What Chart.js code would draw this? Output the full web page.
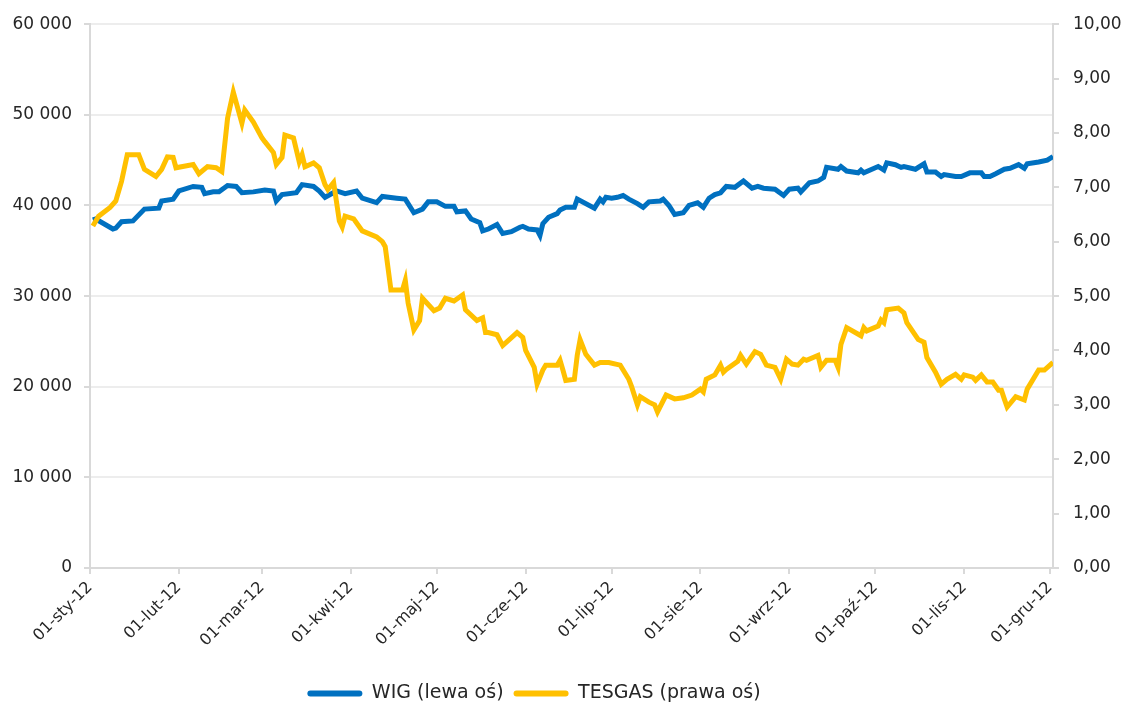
<!DOCTYPE html>
<html>
<head>
<meta charset="utf-8">
<script src="https://cdn.jsdelivr.net/npm/chart.js@4.4.0/dist/chart.umd.min.js"></script>
<style>
  html, body { margin: 0; padding: 0; background: #fff; }
  .graph { width: 1125px; height: 707px; }
</style>
</head>
<body>
<div class="graph"><canvas id="chart"></canvas></div>
<script>
// day of year (0 = 1 Jan 2012) for month ticks
const monthTicks = [0, 31, 60, 91, 121, 152, 182, 213, 244, 274, 305, 335];
const monthLabels = ['01-sty-12', '01-lut-12', '01-mar-12', '01-kwi-12', '01-maj-12', '01-cze-12',
  '01-lip-12', '01-sie-12', '01-wrz-12', '01-paź-12', '01-lis-12', '01-gru-12'];

const wigDays = [1, 2, 8, 9, 11, 15, 19, 24, 25, 29, 31, 36, 39, 40, 43, 45, 48, 51, 53, 57,
  61, 64, 65, 67, 72, 74, 78, 80, 82, 86, 89, 93, 95, 100, 102, 107, 110, 113, 116, 118,
  121, 124, 127, 128, 131, 133, 136, 137, 139, 142, 144, 147, 150, 151, 153, 156, 157, 158, 160, 163,
  164, 166, 169, 170, 176, 178, 179, 180, 182, 184, 186, 188, 191, 193, 195, 199, 200, 202, 204, 207,
  209, 212, 214, 216, 218, 220, 222, 225, 228, 231, 233, 235, 239, 242, 244, 247, 248, 251, 254, 256,
  257, 261, 262, 264, 268, 269, 270, 275, 277, 278, 281, 283, 284, 288, 291, 292, 295, 297, 298, 302,
  304, 307, 311, 312, 314, 316, 319, 321, 324, 326, 327, 331, 334, 336];
const wigValues = [38400, 38500, 37400, 37500, 38200, 38300, 39600, 39700, 40500, 40700, 41600, 42100, 42000, 41300, 41500, 41500, 42200, 42100, 41400, 41500,
  41700, 41600, 40500, 41200, 41400, 42300, 42100, 41600, 40900, 41600, 41300, 41600, 40800, 40300, 41000, 40800, 40700, 39200, 39600, 40400,
  40400, 39900, 39900, 39300, 39400, 38500, 38100, 37200, 37400, 37900, 36900, 37100, 37600, 37700, 37400, 37300, 36700, 38000, 38700, 39100,
  39500, 39800, 39800, 40700, 39700, 40700, 40400, 40900, 40800, 40900, 41100, 40700, 40200, 39800, 40400, 40500, 40700, 40000, 39000, 39200,
  40000, 40300, 39800, 40800, 41200, 41400, 42100, 42000, 42700, 41900, 42100, 41900, 41800, 41100, 41800, 41900, 41500, 42500, 42700, 43100,
  44200, 44000, 44300, 43800, 43600, 43900, 43600, 44300, 43900, 44700, 44500, 44200, 44300, 44000, 44600, 43700, 43700, 43200, 43400, 43200,
  43200, 43600, 43600, 43200, 43200, 43500, 44000, 44100, 44500, 44100, 44600, 44800, 45000, 45400];

const tesgasDays = [1, 3, 7, 9, 11, 13, 17, 19, 23, 25, 27, 29, 30, 36, 38, 41, 44, 46, 48, 50,
  53, 54, 57, 60, 61, 64, 65, 67, 68, 71, 73, 74, 75, 78, 80, 82, 83, 85, 87, 88,
  89, 92, 95, 100, 102, 103, 105, 109, 110, 111, 113, 115, 116, 120, 122, 124, 127, 130, 131, 135,
  137, 138, 139, 142, 144, 149, 151, 152, 155, 156, 158, 159, 163, 164, 165, 166, 169, 170, 171, 173,
  176, 178, 181, 185, 188, 189, 191, 192, 195, 197, 198, 201, 204, 207, 210, 213, 214, 215, 218, 220,
  221, 222, 226, 227, 229, 232, 234, 236, 239, 241, 243, 245, 247, 249, 250, 254, 255, 257, 260, 261,
  262, 264, 269, 270, 271, 275, 276, 277, 278, 282, 284, 285, 289, 291, 292, 295, 297, 299, 302, 304,
  305, 308, 309, 311, 313, 315, 317, 318, 319, 320, 323, 326, 327, 331, 333, 336];
const tesgasValues = [6.29, 6.47, 6.63, 6.75, 7.11, 7.60, 7.60, 7.33, 7.20, 7.33, 7.56, 7.55, 7.36, 7.42, 7.25, 7.38, 7.36, 7.29, 8.27, 8.75,
  8.18, 8.42, 8.20, 7.91, 7.84, 7.64, 7.42, 7.55, 7.96, 7.91, 7.47, 7.60, 7.38, 7.45, 7.36, 7.05, 6.96, 7.09, 6.38, 6.27,
  6.47, 6.42, 6.20, 6.09, 6.00, 5.91, 5.11, 5.11, 5.29, 4.87, 4.38, 4.55, 4.96, 4.73, 4.78, 4.96, 4.91, 5.02, 4.75, 4.55,
  4.60, 4.33, 4.33, 4.29, 4.09, 4.33, 4.24, 4.00, 3.69, 3.38, 3.64, 3.73, 3.73, 3.82, 3.64, 3.45, 3.47, 3.91, 4.20, 3.93,
  3.73, 3.78, 3.78, 3.73, 3.47, 3.33, 3.00, 3.15, 3.05, 3.00, 2.87, 3.18, 3.11, 3.13, 3.18, 3.29, 3.24, 3.47, 3.55, 3.73,
  3.60, 3.65, 3.80, 3.91, 3.75, 3.98, 3.93, 3.73, 3.69, 3.47, 3.84, 3.75, 3.73, 3.84, 3.82, 3.91, 3.69, 3.82, 3.82, 3.69,
  4.11, 4.42, 4.27, 4.42, 4.36, 4.45, 4.56, 4.51, 4.75, 4.78, 4.69, 4.51, 4.20, 4.15, 3.87, 3.60, 3.38, 3.47, 3.56, 3.47,
  3.55, 3.51, 3.45, 3.55, 3.42, 3.42, 3.27, 3.27, 3.11, 2.96, 3.15, 3.09, 3.29, 3.64, 3.64, 3.78];

const toPoints = (days, vals) => days.map((d, i) => ({ x: d, y: vals[i] }));

Chart.defaults.font.family = '"DejaVu Sans", sans-serif';
Chart.defaults.font.size = 17;
Chart.defaults.color = '#262626';

const axisColor = '#d9d9d9';

new Chart(document.getElementById('chart').getContext('2d'), {
  type: 'line',
  data: {
    datasets: [
      {
        label: 'WIG (lewa oś)',
        data: toPoints(wigDays, wigValues),
        yAxisID: 'y',
        borderColor: '#0070c0',
        backgroundColor: '#0070c0',
        borderWidth: 5,
        pointRadius: 0,
        tension: 0,
        order: 2,
      },
      {
        label: 'TESGAS (prawa oś)',
        data: toPoints(tesgasDays, tesgasValues),
        yAxisID: 'y1',
        borderColor: '#ffc000',
        backgroundColor: '#ffc000',
        borderWidth: 5,
        pointRadius: 0,
        tension: 0,
        order: 1,
      },
    ],
  },
  options: {
    responsive: true,
    maintainAspectRatio: false,
    animation: false,
    layout: { padding: { top: 18, left: 0, right: 0, bottom: -6 } },
    plugins: {
      tooltip: { enabled: false },
      legend: {
        position: 'bottom',
        labels: {
          boxWidth: 55,
          boxHeight: 6,
          useBorderRadius: true,
          borderRadius: 3,
          padding: 10,
          font: { size: 19 },
          color: '#262626',
          sort: (a, b) => a.datasetIndex - b.datasetIndex,
          // extra room after the first entry, like the gap in the original legend
          generateLabels: (chart) => {
            const items = Chart.defaults.plugins.legend.labels.generateLabels(chart);
            items.forEach(it => { it.lineWidth = 0; });
            items[0].text += '\u2003\u2003\u2003';
            return items;
          },
        },
      },
    },
    scales: {
      x: {
        type: 'linear',
        min: 0,
        max: 336,
        afterBuildTicks: (scale) => { scale.ticks = monthTicks.map(v => ({ value: v })); },
        afterCalculateLabelRotation: (scale) => { scale.labelRotation = 45; },
        afterFit: (scale) => { scale.height = 106; },
        ticks: {
          autoSkip: false,
          minRotation: 45,
          maxRotation: 45,
          padding: 4,
          font: { size: 16 },
          callback: (v) => monthLabels[monthTicks.indexOf(v)],
        },
        grid: { drawOnChartArea: false, drawTicks: true, tickLength: 6, color: axisColor, lineWidth: 2 },
        border: { color: axisColor, width: 2 },
      },
      y: {
        position: 'left',
        min: 0,
        max: 60000,
        afterFit: (scale) => { scale.width = 90; },
        ticks: {
          stepSize: 10000,
          padding: 12,
          callback: (v) => v === 0 ? '0' : String(v).replace(/\B(?=(\d{3})+(?!\d))/g, ' '),
        },
        grid: { color: '#ededed', lineWidth: 2, tickLength: 6, tickColor: axisColor },
        border: { color: axisColor, width: 2 },
      },
      y1: {
        position: 'right',
        min: 0,
        max: 10,
        afterFit: (scale) => { scale.width = 72; },
        ticks: {
          stepSize: 1,
          padding: 14,
          callback: (v) => v.toFixed(2).replace('.', ','),
        },
        grid: { drawOnChartArea: false, tickLength: 6, color: axisColor, lineWidth: 2 },
        border: { color: axisColor, width: 2 },
      },
    },
  },
});
</script>
</body>
</html>
